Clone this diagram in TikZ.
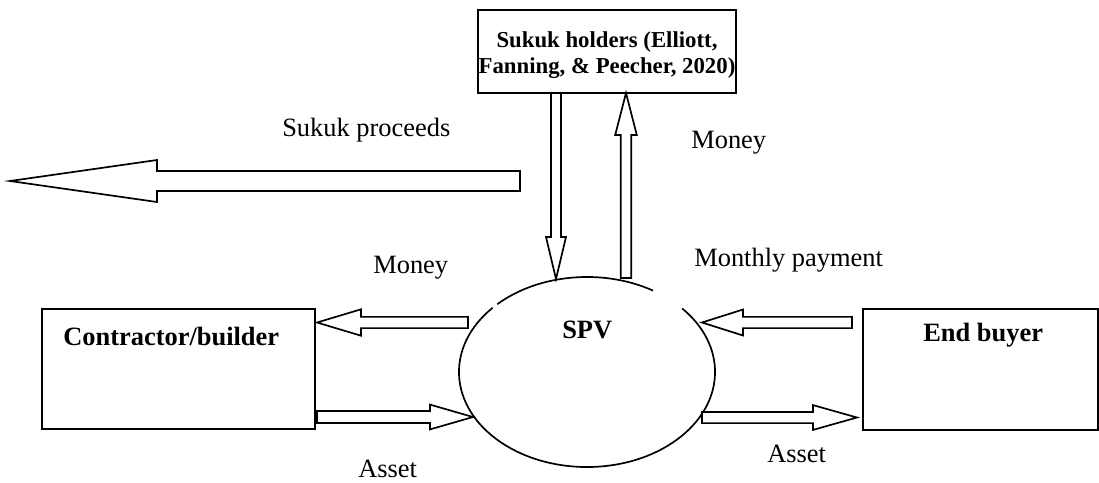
\documentclass[tikz,border=0pt]{standalone}
\usepackage{fontspec}
\setmainfont{Liberation Serif}
\usetikzlibrary{calc}

\tikzset{
  trait/.style={line width=1.2pt},
  boite/.style={draw, trait, inner sep=0pt},
  texte/.style={inner sep=0pt, anchor=base west},
  gras/.style={font=\fontsize{18.8}{19.5}\selectfont\bfseries},
  fleche/.style={trait, fill=white, line join=miter},
}

% flèche creuse : depart, pointe, demi-corps, demi-tete, longueur de tete
\newcommand{\flechecreuse}[5]{%
  \coordinate (fb) at ($(#2)!#5!(#1)$);
  \filldraw[fleche] ($(#1)!#3!90:(#2)$) -- ($(fb)!#3!90:(#2)$)
    -- ($(fb)!#4!90:(#2)$) -- (#2) -- ($(fb)!#4!-90:(#2)$)
    -- ($(fb)!#3!-90:(#2)$) -- ($(#1)!#3!-90:(#2)$) -- cycle;
}

\begin{document}
\begin{tikzpicture}[x=0.025cm, y=-0.025cm,
  font=\fontsize{18.8}{19.5}\selectfont]
\useasboundingbox (0,0) rectangle (1099,482);

% Boîtes
\node[boite, minimum width=6.45cm, minimum height=2.075cm] (porteurs) at (607,51.5) {};
\node[align=center, inner sep=0pt, font=\fontsize{16.2}{19}\selectfont\bfseries]
  (porteurs-t) at (607,55) {Sukuk holders (Elliott,\\Fanning, \& Peecher, 2020)};
\node[boite, minimum width=6.825cm, minimum height=3cm] (entrepreneur) at (178.5,369) {};
\node[texte, gras] (entrepreneur-t) at (63,345) {Contractor/builder};
\node[boite, minimum width=5.875cm, minimum height=3.025cm] (acheteur) at (980.5,369.5) {};
\node[texte, gras] (acheteur-t) at (923,341) {End buyer};

% SPV (ellipse coupée en haut)
\coordinate (spvc) at (587,372);
\draw[trait] ($(spvc)+(59:3.2cm and 2.375cm)$)
  arc[start angle=59, end angle=134.5, x radius=3.2cm, y radius=2.375cm];
\draw[trait] ($(spvc)+(137.5:3.2cm and 2.375cm)$)
  arc[start angle=137.5, end angle=402, x radius=3.2cm, y radius=2.375cm];
\node[texte, gras] (spv) at (562,338) {SPV};

% Extrémités des flèches
\coordinate (prod-a) at (520,181);  \coordinate (prod-b) at (10,181);
\coordinate (desc-a) at (556,93);   \coordinate (desc-b) at (556,279);
\coordinate (mont-a) at (626,278);  \coordinate (mont-b) at (626,93);
\coordinate (arg-a) at (468,322.5); \coordinate (arg-b) at (317,322.5);
\coordinate (act-a) at (317,417);   \coordinate (act-b) at (473,417);
\coordinate (mens-a) at (852,322.5); \coordinate (mens-b) at (702,322.5);
\coordinate (vente-a) at (702,417.5); \coordinate (vente-b) at (857,417.5);

% Flèches
\flechecreuse{prod-a}{prod-b}{0.25cm}{0.525cm}{3.675cm}
\flechecreuse{desc-a}{desc-b}{0.125cm}{0.25cm}{1.05cm}
\flechecreuse{mont-a}{mont-b}{0.13cm}{0.27cm}{1.05cm}
\flechecreuse{arg-a}{arg-b}{0.14cm}{0.33cm}{1.1cm}
\flechecreuse{act-a}{act-b}{0.15cm}{0.31cm}{1.075cm}
\flechecreuse{mens-a}{mens-b}{0.14cm}{0.325cm}{1.025cm}
\flechecreuse{vente-a}{vente-b}{0.14cm}{0.31cm}{1.1cm}

% Étiquettes
\node[texte] (l-prod) at (282,136) {Sukuk proceeds};
\node[texte] (l-arg1) at (691,148) {Money};
\node[texte] (l-mens) at (694,266) {Monthly payment};
\node[texte] (l-arg2) at (373,273) {Money};
\node[texte] (l-act1) at (358,477) {Asset};
\node[texte] (l-act2) at (767,462) {Asset};

\end{tikzpicture}
\end{document}
